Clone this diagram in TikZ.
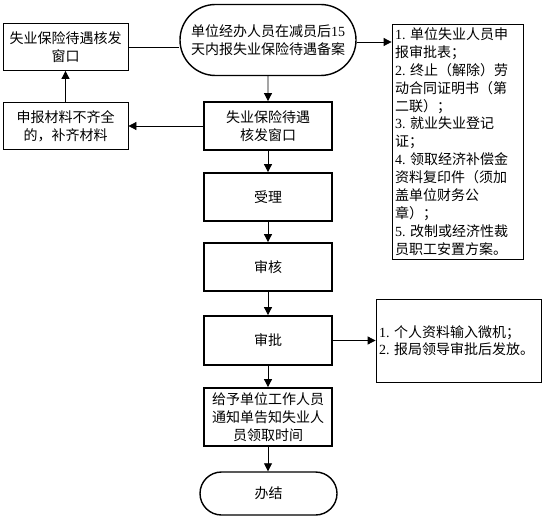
\documentclass[tikz,border=0pt]{standalone}
\usepackage{fontspec}
\setmainfont{Noto Sans CJK SC}
\newfontfamily\lat{Liberation Serif}
\usetikzlibrary{arrows.meta,shapes.misc}
\begin{document}
\begin{tikzpicture}[x=1pt,y=-1pt,
  font=\fontsize{14}{18}\selectfont,
  thinbox/.style={draw, line width=0.8pt, inner sep=0pt, align=center, minimum width=125pt, minimum height=47pt},
  thickbox/.style={draw, line width=1.8pt, inner sep=0pt, align=center, minimum width=128pt, minimum height=48pt},
  notebox/.style={draw, line width=0.8pt, inner xsep=3pt, inner ysep=0pt, align=left},
  term/.style={draw, rounded rectangle, line width=1.4pt, inner sep=0pt, align=center},
  conn/.style={line width=0.8pt},
  arr/.style={conn, -{Triangle[length=8pt,width=8pt]}}]
\useasboundingbox (0,0) rectangle (545,529);

\node[term, minimum width=176pt, minimum height=71pt] (start) at (268,40) {单位经办人员在减员后{\lat 15}\\天内报失业保险待遇备案};
\node[thinbox] (A) at (65.5,47) {失业保险待遇核发\\窗口};
\node[thinbox] (B) at (65.5,126) {申报材料不齐全\\的，补齐材料};
\node[thickbox] (C) at (268,126) {失业保险待遇\\核发窗口};
\node[thickbox] (D) at (268,197) {受理};
\node[thickbox] (E) at (268,267) {审核};
\node[thickbox, minimum height=49pt] (F) at (268,340.5) {审批};
\node[thickbox, minimum height=58pt] (G) at (268,417) {给予单位工作人员\\通知单告知失业人\\员领取时间};
\node[term, minimum width=137pt, minimum height=43pt] (H) at (268.5,493.5) {办结};

\node[notebox, text width=125pt, minimum height=235pt, font=\fontsize{14}{17.9}\selectfont] (R1) at (457.5,141.5)
 {{\lat 1.}~单位失业人员申\\报审批表；\\{\lat 2.}~终止（解除）劳\\动合同证明书（第\\二联）；\\{\lat 3.}~就业失业登记\\证；\\{\lat 4.}~领取经济补偿金\\资料复印件（须加\\盖单位财务公\\章）；\\{\lat 5.}~改制或经济性裁\\员职工安置方案。};
\node[notebox, text width=159pt, minimum height=83pt, font=\fontsize{14}{16.5}\selectfont] (R2) at (458.5,340.5)
 {{\lat 1.}~个人资料输入微机；\\{\lat 2.}~报局领导审批后发放。};

\draw[conn] (A.east) -- (A.east -| start.west);
\draw[arr] ([yshift=-2pt]start.east) -- ([yshift=-2pt]start.east -| R1.west);
\draw[arr] (start) -- (C);
\draw[arr] (C.west) -- (B.east);
\draw[arr] (B.north) -- (A.south);
\draw[arr] (C) -- (D);
\draw[arr] (D) -- (E);
\draw[arr] (E) -- (F);
\draw[arr] (F) -- (G);
\draw[arr] (G.south) -- (G.south |- H.north);
\draw[arr] (F.east) -- (F.east -| R2.west);
\end{tikzpicture}
\end{document}
